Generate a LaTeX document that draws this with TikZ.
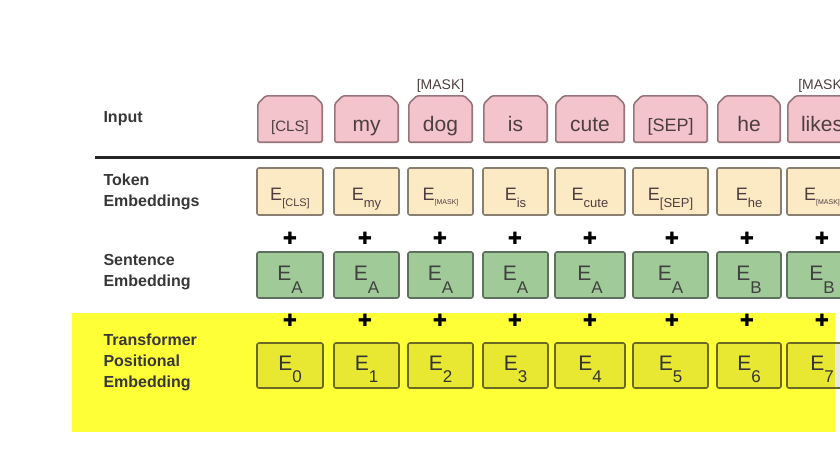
\documentclass[tikz,border=0pt]{standalone}
\usepackage{fontspec}
\setmainfont{Liberation Sans}
\newfontfamily\plusfont{DejaVu Sans}

\definecolor{inputpink}{RGB}{243,196,204}
\definecolor{inputedge}{RGB}{150,118,124}
\definecolor{tokfill}{RGB}{252,234,196}
\definecolor{tokedge}{RGB}{135,128,112}
\definecolor{segfill}{RGB}{160,203,152}
\definecolor{segedge}{RGB}{95,112,95}
\definecolor{posband}{RGB}{255,255,56}
\definecolor{posedge}{RGB}{105,105,35}
\definecolor{labelgray}{RGB}{55,55,55}
\definecolor{boxtext}{RGB}{78,62,64}

\newcommand{\Esub}[3]{E\raisebox{-#2}{\fontsize{#1}{#1}\selectfont #3}}

\tikzset{
  rowlabel/.style={anchor=west, align=left, text=labelgray, font=\fontsize{16}{21}\selectfont\bfseries},
  inbox/.style={rectangle, fill=white, text=boxtext, minimum height=48pt, inner sep=0pt,
    text height=24pt, text depth=0pt, font=\fontsize{21}{21}\selectfont,
    path picture={
      \filldraw[fill=inputpink, draw=inputedge, line width=1.6pt, rounded corners=1.5pt]
        ([xshift=0.8pt, yshift=0.8pt]path picture bounding box.south west)
        -- ([xshift=0.8pt, yshift=-8.8pt]path picture bounding box.north west)
        -- ([xshift=8.8pt, yshift=-0.8pt]path picture bounding box.north west)
        -- ([xshift=-8.8pt, yshift=-0.8pt]path picture bounding box.north east)
        -- ([xshift=-0.8pt, yshift=-8.8pt]path picture bounding box.north east)
        -- ([xshift=-0.8pt, yshift=0.8pt]path picture bounding box.south east)
        -- cycle;}},
  tokbox/.style={draw=tokedge, line width=1.6pt, fill=tokfill, rounded corners=2pt, text=boxtext,
    minimum height=47pt, inner sep=0pt, text height=17pt, text depth=0pt, font=\fontsize{18}{18}\selectfont},
  segbox/.style={draw=segedge, line width=1.6pt, fill=segfill, rounded corners=2pt, text=black!75,
    minimum height=46pt, inner sep=0pt, text height=15pt, text depth=5pt, font=\fontsize{21}{21}\selectfont},
  posbox/.style={draw=posedge, line width=1.6pt, fill=black, fill opacity=0.09, text opacity=1,
    rounded corners=2pt, text=black!80, minimum height=45pt, inner sep=0pt,
    text height=15pt, text depth=6pt, font=\fontsize{21}{21}\selectfont},
  masklabel/.style={text=boxtext, font=\fontsize{14}{14}\selectfont},
  plussign/.style={text=black, font=\plusfont\fontsize{17}{17}\selectfont}
}

\begin{document}
\begin{tikzpicture}[x=1pt, y=-1pt]

\clip (0,0) rectangle (840,472);
\fill[white] (0,0) rectangle (840,472);

% positional band
\fill[posband] (72,313) rectangle (835,432);

\node[rowlabel] (linput) at (100,119) {Input};
\node[rowlabel] (ltok) at (100,191.5) {Token\\Embeddings};
\node[rowlabel] (lseg) at (100,272) {Sentence\\Embedding};
\node[rowlabel] (lpos) at (100,362.5) {Transformer\\Positional\\Embedding};

\draw[line width=3pt, black!85] (95,157) -- (840,157);

% input tokens
\node[inbox, minimum width=66pt] (icls) at (290,119) {\fontsize{15}{15}\selectfont [CLS]};
\node[inbox, minimum width=65pt] (imy) at (366.5,119) {my};
\node[inbox, minimum width=65pt] (idog) at (440.5,119) {dog};
\node[inbox, minimum width=65pt] (iis) at (515.5,119) {is};
\node[inbox, minimum width=70pt] (icute) at (590,119) {cute};
\node[inbox, minimum width=75pt] (isep) at (670.5,119) {\fontsize{18}{18}\selectfont [SEP]};
\node[inbox, minimum width=64pt] (ihe) at (749,119) {he};
\node[inbox, minimum width=70pt] (ilikes) at (822,119) {likes};

\node[masklabel] (mdog) at (440.5,86) {[MASK]};
\node[masklabel] (mlikes) at (822,86) {[MASK]};

% token embeddings
\node[tokbox, minimum width=66pt] (tcls) at (290,191.5) {\Esub{11}{6pt}{[CLS]}};
\node[tokbox, minimum width=65pt] (tmy) at (366.5,191.5) {\Esub{13}{7pt}{my}};
\node[tokbox, minimum width=65pt] (tdog) at (440.5,191.5) {\Esub{7}{4pt}{[MASK]}};
\node[tokbox, minimum width=65pt] (tis) at (515.5,191.5) {\Esub{13}{7pt}{is}};
\node[tokbox, minimum width=70pt] (tcute) at (590,191.5) {\Esub{13}{7pt}{cute}};
\node[tokbox, minimum width=75pt] (tsep) at (670.5,191.5) {\Esub{13}{7pt}{[SEP]}};
\node[tokbox, minimum width=64pt] (the) at (749,191.5) {\Esub{13}{7pt}{he}};
\node[tokbox, minimum width=70pt] (tlikes) at (822,191.5) {\Esub{7}{4pt}{[MASK]}};

% sentence embeddings
\node[segbox, minimum width=66pt] (scls) at (290,275) {\Esub{17}{13pt}{A}};
\node[segbox, minimum width=65pt] (smy) at (366.5,275) {\Esub{17}{13pt}{A}};
\node[segbox, minimum width=65pt] (sdog) at (440.5,275) {\Esub{17}{13pt}{A}};
\node[segbox, minimum width=65pt] (sis) at (515.5,275) {\Esub{17}{13pt}{A}};
\node[segbox, minimum width=70pt] (scute) at (590,275) {\Esub{17}{13pt}{A}};
\node[segbox, minimum width=75pt] (ssep) at (670.5,275) {\Esub{17}{13pt}{A}};
\node[segbox, minimum width=64pt] (she) at (749,275) {\Esub{17}{13pt}{B}};
\node[segbox, minimum width=70pt] (slikes) at (822,275) {\Esub{17}{13pt}{B}};

% positional embeddings
\node[posbox, minimum width=66pt] (pcls) at (290,365.5) {\Esub{17}{12pt}{0}};
\node[posbox, minimum width=65pt] (pmy) at (366.5,365.5) {\Esub{17}{12pt}{1}};
\node[posbox, minimum width=65pt] (pdog) at (440.5,365.5) {\Esub{17}{12pt}{2}};
\node[posbox, minimum width=65pt] (pis) at (515.5,365.5) {\Esub{17}{12pt}{3}};
\node[posbox, minimum width=70pt] (pcute) at (590,365.5) {\Esub{17}{12pt}{4}};
\node[posbox, minimum width=75pt] (psep) at (670.5,365.5) {\Esub{17}{12pt}{5}};
\node[posbox, minimum width=64pt] (phe) at (749,365.5) {\Esub{17}{12pt}{6}};
\node[posbox, minimum width=70pt] (plikes) at (822,365.5) {\Esub{17}{12pt}{7}};

% plus signs
\node[plussign] at (290,238) {✚};
\node[plussign] at (365,238) {✚};
\node[plussign] at (440,238) {✚};
\node[plussign] at (515,238) {✚};
\node[plussign] at (590,238) {✚};
\node[plussign] at (672,238) {✚};
\node[plussign] at (747,238) {✚};
\node[plussign] at (822,238) {✚};

\node[plussign] at (290,320) {✚};
\node[plussign] at (365,320) {✚};
\node[plussign] at (440,320) {✚};
\node[plussign] at (515,320) {✚};
\node[plussign] at (590,320) {✚};
\node[plussign] at (672,320) {✚};
\node[plussign] at (747,320) {✚};
\node[plussign] at (822,320) {✚};

\end{tikzpicture}
\end{document}
